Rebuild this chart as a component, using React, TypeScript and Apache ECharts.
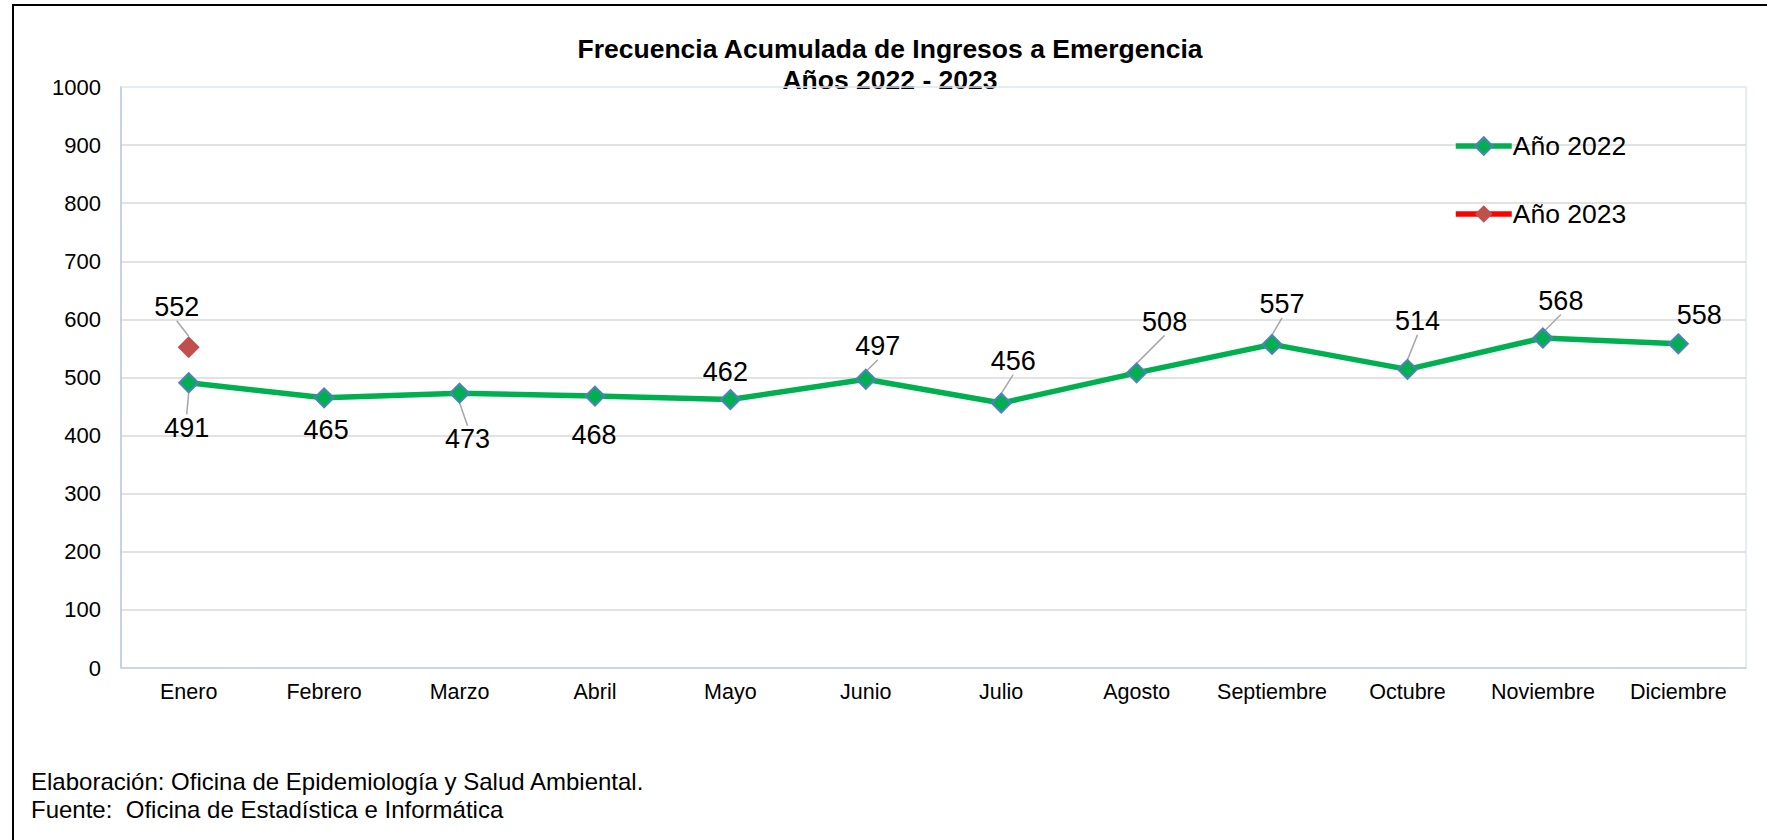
import React, { useEffect, useRef } from "react";
import * as echarts from "echarts";

const months = ["Enero", "Febrero", "Marzo", "Abril", "Mayo", "Junio", "Julio", "Agosto", "Septiembre", "Octubre", "Noviembre", "Diciembre"];
const values2022 = [491, 465, 473, 468, 462, 497, 456, 508, 557, 514, 568, 558];
const values2023 = [552];
const seriesNames = ["Año 2022", "Año 2023"];
const titleLines = ["Frecuencia Acumulada de Ingresos a Emergencia", "Años 2022 - 2023"];
const footerLines = ["Elaboración: Oficina de Epidemiología y Salud Ambiental.", "Fuente:  Oficina de Estadística e Informática"];

// label offsets (px) from each point to its label centre, and whether a leader line is drawn
const labelOffsets2022 = [[-2, 45], [2, 32], [8, 46], [-1, 39], [-5, -28], [12, -33], [12, -42], [28, -51], [10, -40], [10, -48], [18, -37], [21, -29]];
const leaders2022 = [true, false, true, false, false, true, true, true, true, true, true, false];
const labelOffsets2023 = [[-12, -40]];
const leaders2023 = [true];

const FONT = "'Liberation Sans', Arial, Helvetica, sans-serif";

export default function App() {
  const ref = useRef<HTMLDivElement>(null);
  useEffect(() => {
    if (!ref.current) return;
    const chart = echarts.init(ref.current, undefined, { renderer: "svg" });
    const gridColors = Array.from({ length: 11 }, (_, i) => (i === 10 ? "#e6ecf4" : "#d9d9d9"));
    const offsets = [labelOffsets2022, labelOffsets2023];
    const leaderStyle = { color: "#a6a6a6", width: 1.5 };
    const toItems = (vals: number[], leaders: boolean[]) =>
      vals.map((v, i) => ({ value: v, labelLine: { show: leaders[i], lineStyle: leaderStyle } }));
    chart.setOption({
      animation: false,
      backgroundColor: "#ffffff",
      textStyle: { fontFamily: FONT },
      grid: { left: 121, right: 21, top: 87, bottom: 172, show: true, borderColor: "#dde6f1", borderWidth: 1.5 },
      xAxis: {
        type: "category",
        data: months,
        boundaryGap: true,
        axisTick: { show: false },
        axisLine: { lineStyle: { color: "#c8d3e0", width: 1.5 } },
        axisLabel: { interval: 0, fontSize: 21.5, color: "#000", margin: 13, fontFamily: FONT },
      },
      yAxis: {
        type: "value",
        min: 0,
        max: 1000,
        interval: 100,
        axisLine: { show: true, lineStyle: { color: "#b9cde5", width: 1.5 } },
        axisTick: { show: false },
        splitLine: { lineStyle: { color: gridColors, width: 1.5 } },
        axisLabel: { fontSize: 22, color: "#000", margin: 20, fontFamily: FONT, formatter: (v: number) => String(v) },
      },
      legend: {
        orient: "vertical",
        left: 1448,
        top: 126,
        itemWidth: 56,
        itemHeight: 22,
        itemGap: 38,
        data: seriesNames,
        lineStyle: { width: 5.5 },
        textStyle: { fontSize: 26.5, color: "#000", fontFamily: FONT, lineHeight: 30, padding: [0, 0, 0, -4] },
      },
      labelLayout: (params: any) => {
        const o = offsets[params.seriesIndex] && offsets[params.seriesIndex][params.dataIndex];
        if (!o) return {};
        return { dx: o[0], dy: o[1] };
      },
      series: [
        {
          name: seriesNames[0],
          type: "line",
          data: toItems(values2022, leaders2022),
          symbol: "diamond",
          symbolSize: 19,
          lineStyle: { color: "#00b050", width: 5.5 },
          itemStyle: { color: "#00b050", borderColor: "#4f81bd", borderWidth: 2 },
          label: { show: true, position: "inside", fontSize: 27, color: "#000", fontFamily: FONT },
          labelLine: { show: true, lineStyle: leaderStyle },
          emphasis: { disabled: true },
          z: 3,
        },
        {
          name: seriesNames[1],
          type: "line",
          data: toItems(values2023, leaders2023),
          symbol: "diamond",
          symbolSize: 22,
          lineStyle: { color: "#ff0000", width: 5.5 },
          itemStyle: { color: "#c0504d", borderColor: "#c0504d", borderWidth: 0 },
          label: { show: true, position: "inside", fontSize: 27, color: "#000", fontFamily: FONT },
          labelLine: { show: true, lineStyle: leaderStyle },
          emphasis: { disabled: true },
          z: 3,
        },
      ],
      graphic: [
        {
          type: "rect",
          shape: { x: 13, y: 5, width: 1800, height: 900 },
          style: { fill: "none", stroke: "#000", lineWidth: 2 },
          silent: true,
          z: -1,
        },
        {
          type: "text",
          x: 890,
          y: 49,
          style: { text: titleLines[0], fill: "#000", font: `bold 26.5px ${FONT}`, textAlign: "center", textVerticalAlign: "middle" },
        },
        {
          type: "text",
          x: 890,
          y: 80,
          style: { text: titleLines[1], fill: "#000", font: `bold 26.5px ${FONT}`, textAlign: "center", textVerticalAlign: "middle" },
        },
        {
          type: "text",
          x: 31,
          y: 781,
          style: { text: footerLines[0], font: `24px ${FONT}`, fill: "#000", textAlign: "left", textVerticalAlign: "middle" },
        },
        {
          type: "text",
          x: 31,
          y: 809,
          style: { text: footerLines[1], font: `24px ${FONT}`, fill: "#000", textAlign: "left", textVerticalAlign: "middle" },
        },
      ],
    });
    return () => chart.dispose();
  }, []);
  return <div ref={ref} style={{ position: "fixed", left: 0, top: 0, width: 1767, height: 840 }} />;
}
